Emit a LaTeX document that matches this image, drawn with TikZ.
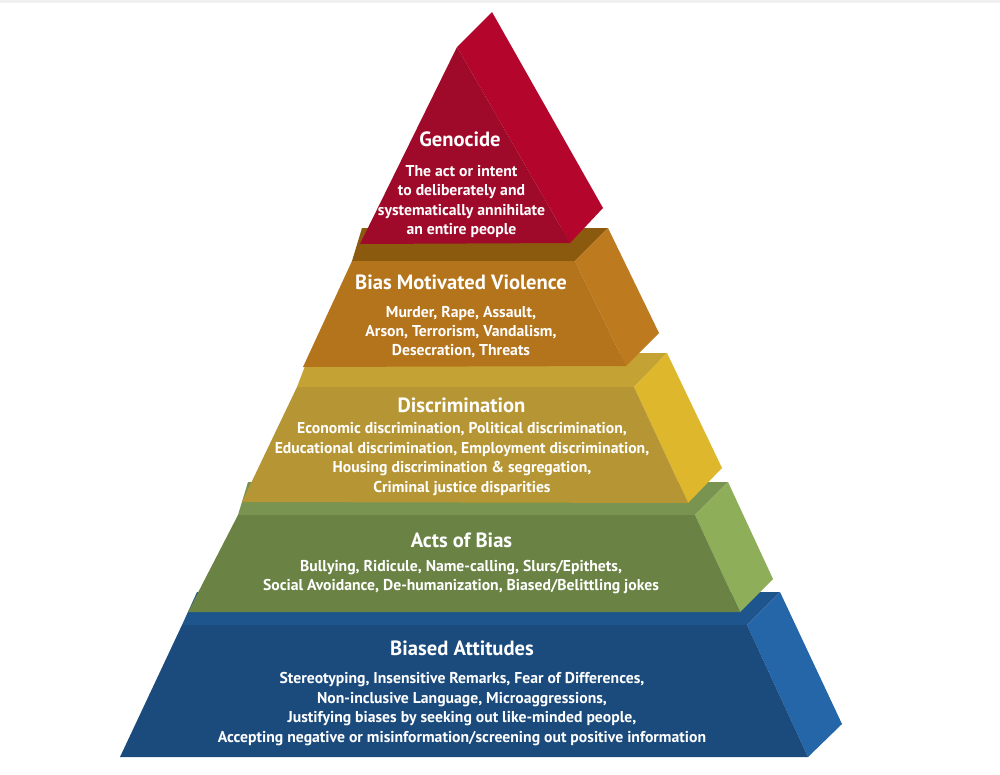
\documentclass[tikz,border=0pt]{standalone}
\usepackage{fontspec}
\setmainfont{PT Sans}
\definecolor{bluefront}{HTML}{1B4B7D}
\definecolor{bluetop}{HTML}{1E558C}
\definecolor{blueside}{HTML}{2466A8}
\definecolor{greenfront}{HTML}{6A8344}
\definecolor{greentop}{HTML}{789450}
\definecolor{greenside}{HTML}{8EAE5A}
\definecolor{yellowfront}{HTML}{B69634}
\definecolor{yellowtop}{HTML}{C4A334}
\definecolor{yellowside}{HTML}{DEB72C}
\definecolor{orangefront}{HTML}{B4741C}
\definecolor{orangetop}{HTML}{8C5A0F}
\definecolor{orangeside}{HTML}{BE7A1E}
\definecolor{redfront}{HTML}{A00A2A}
\definecolor{redside}{HTML}{B4052D}
\begin{document}
\begin{tikzpicture}[x=1pt,y=-1pt,
  tiertitle/.style={text=white,inner sep=0pt,font=\bfseries\fontsize{20.6}{24}\selectfont},
  tierbody/.style={text=white,inner sep=0pt,align=center,font=\bfseries\fontsize{15.7}{19.4}\selectfont}]
\useasboundingbox (0,0) rectangle (1000,774);
\fill[white] (0,0) rectangle (1000,774);
\fill[black!6] (0,0) rectangle (1000,3);
% Blue tier
\fill[bluetop] (182,625) -- (747,625) -- (780,592) -- (197,592) -- cycle;
\fill[blueside] (747,625) -- (780,592) -- (842,724) -- (808,757) -- cycle;
\fill[bluefront] (182,625) -- (747,625) -- (808,757) -- (120,757) -- cycle;
% Green tier
\fill[greentop] (238,515) -- (695,515) -- (728,482) -- (248,482) -- cycle;
\fill[greenside] (695,515) -- (728,482) -- (773,579) -- (740,612) -- cycle;
\fill[greenfront] (238,515) -- (695,515) -- (740,612) -- (188,612) -- cycle;
% Yellow tier
\fill[yellowtop] (297,387) -- (634,387) -- (667,353) -- (310,353) -- cycle;
\fill[yellowside] (634,387) -- (667,353) -- (722,468) -- (688,503) -- cycle;
\fill[yellowfront] (297,387) -- (634,387) -- (688,503) -- (242,502) -- cycle;
% Orange tier
\fill[orangetop] (352,261) -- (575,261) -- (608,228) -- (362,228) -- cycle;
\fill[orangeside] (575,261) -- (608,228) -- (659,333) -- (626,366) -- cycle;
\fill[orangefront] (352,261) -- (575,261) -- (626,366) -- (303,367) -- cycle;
% Red tier
\fill[redside] (457,47) -- (492,12) -- (603,208) -- (570,243) -- cycle;
\fill[redfront] (457,47) -- (570,243) -- (360,244) -- cycle;
% Texts
\node[tiertitle] (t5) at (460,139) {Genocide};
\node[tierbody] (b5) at (461.5,201.5) {The act or intent\\to deliberately and\\systematically annihilate\\an entire people};
\node[tiertitle] (t4) at (461,282) {Bias Motivated Violence};
\node[tierbody] (b4) at (461,332) {Murder, Rape, Assault,\\Arson, Terrorism, Vandalism,\\Desecration, Threats};
\node[tiertitle] (t3) at (461.5,405) {Discrimination};
\node[tierbody] (b3) at (462,459) {Economic discrimination, Political discrimination,\\Educational discrimination, Employment discrimination,\\Housing discrimination \& segregation,\\Criminal justice disparities};
\node[tiertitle] (t2) at (461.5,540) {Acts of Bias};
\node[tierbody] (b2) at (461,577) {Bullying, Ridicule, Name-calling, Slurs/Epithets,\\Social Avoidance, De-humanization, Biased/Belittling jokes};
\node[tiertitle] (t1) at (462,648) {Biased Attitudes};
\node[tierbody] (b1) at (462,709) {Stereotyping, Insensitive Remarks, Fear of Differences,\\Non-inclusive Language, Microaggressions,\\Justifying biases by seeking out like-minded people,\\Accepting negative or misinformation/screening out positive information};
\end{tikzpicture}
\end{document}
